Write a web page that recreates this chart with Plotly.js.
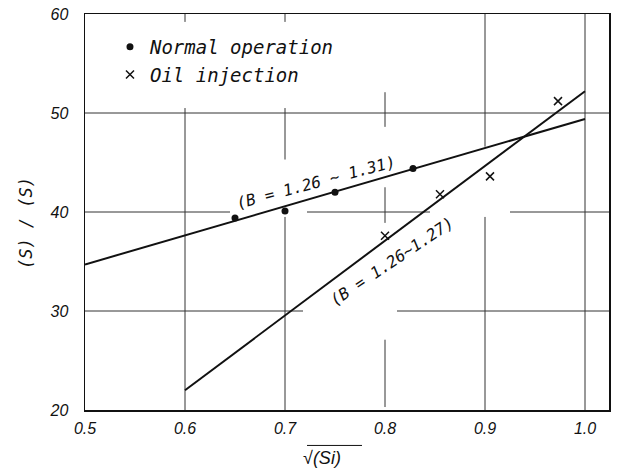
<!DOCTYPE html>
<html>
<head>
<meta charset="utf-8">
<script src="https://cdn.plot.ly/plotly-3.0.1.min.js"></script>
<style>html,body{margin:0;padding:0;background:#fff;}#chart{width:619px;height:468px;}</style>
</head>
<body>
<div id="chart"></div>
<script>
// ---- data ----
var normalX = [0.65, 0.70, 0.75, 0.828];
var normalY = [39.4, 40.1, 42.0, 44.4];
var oilX = [0.80, 0.855, 0.905, 0.973];
var oilY = [37.6, 41.8, 43.6, 51.2];
var normalFitX = [0.5, 1.0];
var normalFitY = [34.7, 49.4];
var oilFitX = [0.6, 1.0];
var oilFitY = [22.0, 52.2];
var xTickVals = [0.5, 0.6, 0.7, 0.8, 0.9, 1.0];
var xTickText = ['0.5', '0.6', '0.7', '0.8', '0.9', '1.0'];
var yTickVals = [20, 30, 40, 50, 60];
var yTickText = ['20', '30', '40', '50', '60'];

var ink = '#111';
var mono = 'DejaVu Sans Mono, monospace';
var sans = 'Liberation Sans, Arial, sans-serif';
function ital(t) { return '<i>' + t + '</i>'; }

var traces = [
  {x: normalFitX, y: normalFitY, mode: 'lines', line: {color: ink, width: 2}, showlegend: false, hoverinfo: 'skip'},
  {x: oilFitX, y: oilFitY, mode: 'lines', line: {color: ink, width: 2}, showlegend: false, hoverinfo: 'skip'},
  {x: normalX, y: normalY, mode: 'markers', name: 'Normal operation',
   marker: {symbol: 'circle', size: 7, color: ink}},
  {x: oilX, y: oilY, mode: 'markers', name: 'Oil injection',
   marker: {symbol: 'x-thin-open', size: 8, color: ink, line: {color: ink, width: 1.5}}}
];

// hand-drawn grid with gaps (layout decoration)
function seg(x0, y0, x1, y1) {
  return {type: 'line', xref: 'x', yref: 'y', x0: x0, y0: y0, x1: x1, y1: y1,
          layer: 'below', line: {color: '#333', width: 1}};
}
var shapes = [
  seg(0.5, 50, 1.024, 50),
  seg(0.5, 40, 0.645, 40), seg(0.722, 40, 0.845, 40), seg(0.925, 40, 1.024, 40),
  seg(0.5, 30, 0.718, 30), seg(0.812, 30, 1.024, 30),
  seg(0.6, 20, 0.6, 50.5), seg(0.6, 59.2, 0.6, 60),
  seg(0.7, 20, 0.7, 39.5), seg(0.7, 45.3, 0.7, 50.5), seg(0.7, 59.2, 0.7, 60),
  seg(0.8, 48.6, 0.8, 52.1), seg(0.8, 38.9, 0.8, 42.5), seg(0.8, 20.3, 0.8, 27.1),
  seg(0.9, 46.6, 0.9, 60), seg(0.9, 20, 0.9, 39.5),
  seg(1.0, 20, 1.0, 60),
  {type: 'line', xref: 'paper', yref: 'paper', x0: 0.4237, x1: 0.5286, y0: -0.0895, y1: -0.0895,
   line: {color: ink, width: 1}}
];

var layout = {
  width: 619, height: 468,
  margin: {l: 85, r: 10, t: 14, b: 58},
  paper_bgcolor: '#fff', plot_bgcolor: '#fff',
  showlegend: true,
  legend: {x: 0.0477, y: 0.965, xanchor: 'left', yanchor: 'top', bgcolor: 'rgba(0,0,0,0)',
           font: {family: mono, size: 19, color: ink, style: 'italic'}},
  xaxis: {range: [0.5, 1.024], tickvals: xTickVals, ticktext: xTickText.map(ital),
          showgrid: false, zeroline: false, showline: true, linecolor: ink, linewidth: 1.5, mirror: true,
          ticks: '', ticklabelstandoff: 3,
          tickfont: {family: sans, size: 16, color: ink, style: 'italic'}},
  yaxis: {range: [20, 60], tickvals: yTickVals, ticktext: yTickText.map(ital),
          showgrid: false, zeroline: false, showline: true, linecolor: ink, linewidth: 1.5, mirror: true,
          ticks: '', ticklabelstandoff: 12,
          tickfont: {family: sans, size: 16, color: ink, style: 'italic'}},
  shapes: shapes,
  annotations: [
    {x: 0.731, y: 43.0, xref: 'x', yref: 'y', text: '(B = 1.26 ~ 1.31)', showarrow: false,
     textangle: -15, font: {family: mono, size: 16, color: ink, style: 'italic'}},
    {x: 0.807, y: 34.95, xref: 'x', yref: 'y', text: '(B = 1.26~1.27)', showarrow: false,
     textangle: -34, font: {family: mono, size: 16, color: ink, style: 'italic'}},
    {x: 0.452, y: -0.121, xref: 'paper', yref: 'paper', text: '<i>√(Si)</i>', showarrow: false,
     xanchor: 'center', yanchor: 'middle', font: {family: sans, size: 18, color: ink, style: 'italic'}},
    {x: -0.1126, y: 0.472, xref: 'paper', yref: 'paper', text: '(S) / (S)', showarrow: false,
     textangle: -90, xanchor: 'center', yanchor: 'middle', font: {family: mono, size: 17, color: ink, style: 'italic'}}
  ]
};

Plotly.newPlot('chart', traces, layout, {displayModeBar: false, staticPlot: true});
</script>
</body>
</html>
